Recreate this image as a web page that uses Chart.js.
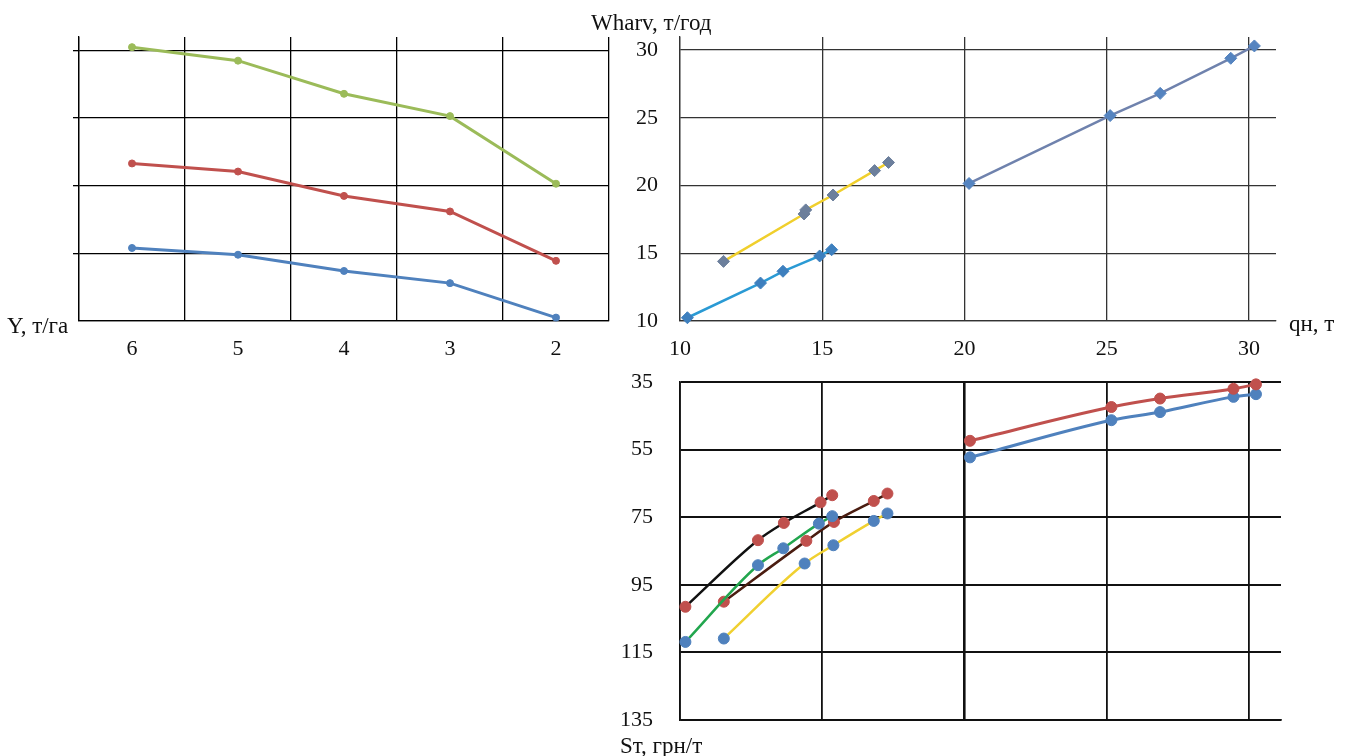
<!DOCTYPE html>
<html>
<head>
<meta charset="utf-8">
<script src="https://cdn.jsdelivr.net/npm/chart.js@4/dist/chart.umd.min.js"></script>
<style>
  html, body { margin: 0; padding: 0; background: #fff; width: 1347px; height: 756px; overflow: hidden; position: relative; }
  .pane { position: absolute; }
  .title { position: absolute; font-family: "Liberation Serif", serif; font-size: 23px; color: #111; white-space: nowrap; line-height: 1; transform: translateY(-50%); }
</style>
</head>
<body>
<div class="pane" style="left:0;top:0"><canvas id="yieldChart" width="630" height="380"></canvas></div>
<div class="pane" style="left:600px;top:0"><canvas id="harvestChart" width="700" height="380"></canvas></div>
<div class="pane" style="left:600px;top:360px"><canvas id="costChart" width="700" height="396"></canvas></div>

<div class="title" style="left:7px;top:325px">Y, т/га</div>
<div class="title" style="left:591px;top:22px">Wharv, т/год</div>
<div class="title" style="left:1289px;top:323px">qн, т</div>
<div class="title" style="left:620px;top:745px">Sт, грн/т</div>

<script>
// ---- Yield panel (top left) ----
const yieldCats = ['6', '5', '4', '3', '2'];
const yieldHigh = [4.05, 3.85, 3.36, 3.03, 2.03];
const yieldMid  = [2.33, 2.21, 1.85, 1.62, 0.89];
const yieldLow  = [1.08, 0.98, 0.74, 0.56, 0.05];
const yieldGridTicks = [0, 1, 2, 3, 4];

// ---- Harvest panel (top right): qн vs Wharv ----
const qTicks = [10, 15, 20, 25, 30];
const wTicks = [10, 15, 20, 25, 30];
const cyanQ   = [10.26, 12.83, 13.62, 14.91, 15.33];
const cyanW   = [10.24, 12.80, 13.67, 14.80, 15.26];
const yellowQ = [11.53, 14.36, 14.42, 15.38, 16.84, 17.33];
const yellowW = [14.40, 17.90, 18.20, 19.30, 21.10, 21.70];
const steelQ  = [20.16, 25.12, 26.88, 29.36, 30.19];
const steelW  = [20.15, 25.16, 26.80, 29.39, 30.30];

// ---- Cost panel (bottom right): qн vs Sт ----
const sTicks = [35, 55, 75, 95, 115, 135];
const blackQ  = [10.19, 12.74, 13.65, 14.94, 15.35];
const blackS  = [101.5, 81.8, 76.7, 70.6, 68.5];
const greenQ  = [10.19, 12.74, 13.63, 14.88, 15.35];
const greenS  = [111.9, 89.2, 84.2, 76.9, 74.7];
const brownQ  = [11.54, 14.44, 15.41, 16.81, 17.29];
const brownS  = [100.0, 82.0, 76.4, 70.2, 68.0];
const goldQ   = [11.54, 14.38, 15.39, 16.81, 17.29];
const goldS   = [110.9, 88.7, 83.3, 76.1, 73.9];
const redQ    = [20.19, 25.16, 26.87, 29.45, 30.24];
const redS    = [52.4, 42.4, 39.9, 37.0, 35.7];
const blueQ   = [20.19, 25.16, 26.87, 29.45, 30.24];
const blueS   = [57.3, 46.3, 43.9, 39.4, 38.6];

Chart.defaults.font.family = '"Liberation Serif", "Times New Roman", serif';
Chart.defaults.color = '#111';
Chart.defaults.animation = false;

const tickFont = { size: 22 };
const xy = (xs, ys) => xs.map((x, i) => ({ x: x, y: ys[i] }));
const fixed = (list) => (scale) => { scale.ticks = list.map(v => ({ value: v })); };
const noPlugins = { legend: { display: false }, tooltip: { enabled: false } };

function lineSet(data, line, marker, style, radius, width, smooth) {
  return {
    data: data,
    borderColor: line,
    borderWidth: width,
    backgroundColor: marker,
    pointBackgroundColor: marker,
    pointBorderColor: marker,
    pointStyle: style,
    pointRadius: radius,
    pointBorderWidth: 1,
    showLine: true,
    tension: smooth ? 0.4 : 0,
    cubicInterpolationMode: smooth ? 'monotone' : 'default',
    clip: false
  };
}

// Yield vs category
new Chart(document.getElementById('yieldChart'), {
  type: 'line',
  data: {
    labels: yieldCats,
    datasets: [
      lineSet(yieldHigh, '#9bbb59', '#9bbb59', 'circle', 3.5, 3, false),
      lineSet(yieldMid,  '#c0504d', '#c0504d', 'circle', 3.5, 3, false),
      lineSet(yieldLow,  '#4f81bd', '#4f81bd', 'circle', 3.5, 3, false)
    ]
  },
  options: {
    responsive: false,
    layout: { padding: { top: 37, right: 21, left: 0, bottom: 0 } },
    plugins: noPlugins,
    scales: {
      x: {
        offset: true,
        grid: { offset: true, color: '#000', lineWidth: 1.3, drawTicks: false },
        border: { display: true, color: '#000', width: 1.3 },
        ticks: { font: tickFont, padding: 15, color: '#111' },
        afterFit: (s) => { s.height = 59; }
      },
      y: {
        min: 0, max: 4.2,
        afterBuildTicks: fixed(yieldGridTicks),
        grid: {
          color: '#000', lineWidth: 1.3, drawTicks: true, tickLength: 6,
          tickColor: (c) => (c.tick && c.tick.value === 0) ? 'rgba(0,0,0,0)' : '#000'
        },
        border: { display: true, color: '#000', width: 1.3 },
        ticks: { display: false },
        afterFit: (s) => { s.width = 79; s.paddingTop = 0; s.paddingBottom = 0; }
      }
    }
  }
});

// Harvest volume vs qн
new Chart(document.getElementById('harvestChart'), {
  type: 'scatter',
  data: {
    datasets: [
      lineSet(xy(cyanQ, cyanW),     '#2a9ad4', '#3d7fbe', 'rectRot', 6, 2.5, false),
      lineSet(xy(yellowQ, yellowW), '#f0cf2c', '#6c7f9c', 'rectRot', 6, 2.5, false),
      lineSet(xy(steelQ, steelW),   '#6f82ad', '#5584c0', 'rectRot', 6, 2.5, false)
    ]
  },
  options: {
    responsive: false,
    layout: { padding: { top: 37, right: 24, left: 0, bottom: 0 } },
    plugins: noPlugins,
    scales: {
      x: {
        type: 'linear', min: 10, max: 30.95,
        afterBuildTicks: fixed(qTicks),
        grid: { color: '#333', lineWidth: 1.3, drawTicks: false },
        border: { display: true, color: '#333', width: 1.3 },
        ticks: { font: tickFont, padding: 15, color: '#111' },
        afterFit: (s) => { s.height = 59; s.paddingLeft = 0; s.paddingRight = 0; }
      },
      y: {
        min: 10, max: 30.96,
        afterBuildTicks: fixed(wTicks),
        grid: { color: '#333', lineWidth: 1.3, drawTicks: false },
        border: { display: true, color: '#333', width: 1.3 },
        ticks: { font: tickFont, padding: 22, color: '#111' },
        afterFit: (s) => { s.width = 80; s.paddingTop = 0; s.paddingBottom = 0; }
      }
    }
  }
});

// Unit cost vs qн (reversed cost axis)
new Chart(document.getElementById('costChart'), {
  type: 'scatter',
  data: {
    datasets: [
      lineSet(xy(blackQ, blackS), '#111111', '#c0504d', 'circle', 5.5, 2.5, true),
      lineSet(xy(greenQ, greenS), '#22a64e', '#4f81bd', 'circle', 5.5, 2.5, true),
      lineSet(xy(brownQ, brownS), '#4a1c10', '#c0504d', 'circle', 5.5, 2.5, true),
      lineSet(xy(goldQ, goldS),   '#f0d030', '#4f81bd', 'circle', 5.5, 2.5, true),
      lineSet(xy(redQ, redS),     '#c0504d', '#c0504d', 'circle', 5.5, 3, true),
      lineSet(xy(blueQ, blueS),   '#4f81bd', '#4f81bd', 'circle', 5.5, 3, true)
    ]
  },
  options: {
    responsive: false,
    layout: { padding: { top: 22, right: 19, left: 0, bottom: 0 } },
    plugins: noPlugins,
    scales: {
      x: {
        type: 'linear', min: 10, max: 31.12,
        afterBuildTicks: fixed(qTicks),
        grid: {
          color: '#111', drawTicks: false,
          lineWidth: (c) => (c.tick && c.tick.value === 20) ? 2.6 : 1.8
        },
        border: { display: true, color: '#111', width: 1.8 },
        ticks: { display: false },
        afterFit: (s) => { s.height = 36; s.paddingLeft = 0; s.paddingRight = 0; }
      },
      y: {
        reverse: true, min: 35, max: 135,
        afterBuildTicks: fixed(sTicks),
        grid: { color: '#111', lineWidth: 2, drawTicks: false },
        border: { display: true, color: '#111', width: 1.6 },
        ticks: { font: tickFont, padding: 27, color: '#111' },
        afterFit: (s) => { s.width = 80; s.paddingTop = 0; s.paddingBottom = 0; }
      }
    }
  }
});
</script>
</body>
</html>
